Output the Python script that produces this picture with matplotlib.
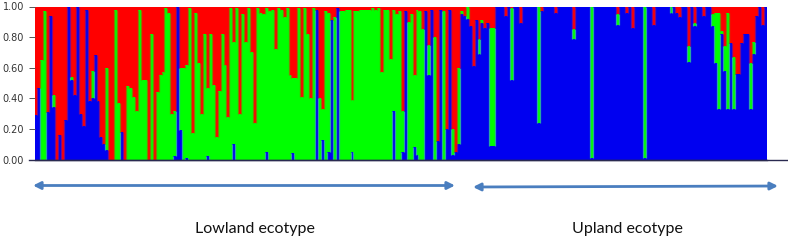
import numpy as np
import matplotlib
matplotlib.use("Agg")
import matplotlib.pyplot as plt
from matplotlib.lines import Line2D

# ---- data: membership fractions per individual (red = 1 - blue - green) ----
lowland_blue = [
    0.29, 0.47, 0, 0, 0.31, 0.94, 0.34, 0, 0.16, 0,
    0.26, 1.0, 0.52, 0.42, 1.0, 0.30, 0.22, 0.98, 0.38, 0.40,
    0.68, 0.38, 0.15, 0.10, 0.06, 0, 0, 0, 0, 0.18,
    0, 0, 0, 0, 0, 0, 0, 0, 0, 0,
    0, 0, 0, 0, 0, 0, 0, 0.02, 1.0, 0.19,
    0, 0.01, 0, 0, 0, 0, 0, 0, 0.02, 0,
    0, 0, 0, 0, 0, 0, 0, 0.10, 0, 0,
    0, 0, 0, 0, 0, 0,
    0, 0, 0.05, 0, 0, 0, 0, 0, 0, 0,
    0, 0.04, 0, 0, 0, 0, 0, 0, 0, 0.98,
    0, 0.13, 0, 0.05, 0.91, 0, 0.99, 0, 0, 0,
    0, 0.05, 0, 0,
    0, 0, 0, 0, 0, 0, 0, 0, 0, 0,
    0, 0.32, 0, 0, 0.05, 0.97, 0, 0, 0.08, 0.03,
    0, 0, 0.97, 0.55, 0.98, 0, 0.12, 0.98, 0, 0.20,
    0.98, 0.03, 0.05,
]
lowland_green = [
    0, 0, 0.65, 0.97, 0, 0, 0.08, 0, 0, 0,
    0, 0, 0.02, 0, 0, 0, 0, 0, 0, 0.18,
    0, 0, 0, 0, 0.54, 0, 0, 0.98, 0.37, 0,
    0, 0.48, 0.47, 0.41, 0.32, 0.98, 0.52, 0.52, 0, 0.82,
    0, 0.44, 0.55, 0.57, 0.99, 0.96, 0.30, 0.30, 0, 0.41,
    0.60, 0.61, 0.99, 0.17, 0.96, 0.63, 0.30, 0.82, 0.45, 0.82,
    0.49, 0.15, 0.45, 0.82, 0.62, 0.28, 0.99, 0.67, 0.99, 0.30,
    0.95, 0.77, 0.99, 0.70, 0.24, 0.99,
    0.96, 0.95, 0.94, 0.97, 0.98, 0.72, 0.99, 0.98, 0.93, 0.99,
    0.55, 0.49, 0.53, 0.99, 0.41, 0.99, 0.82, 0.40, 0.99, 0,
    0.40, 0.20, 0.97, 0.91, 0, 0.93, 0, 0.97, 0.97, 0.98,
    0.98, 0.34, 0.97, 0.97,
    0.98, 0.98, 0.98, 0.98, 0.99, 0.98, 0.99, 0.57, 0.98, 0.98,
    0.66, 0.66, 0.95, 0.97, 0.27, 0, 0.90, 0.95, 0.47, 0.95,
    0.97, 0.85, 0, 0.20, 0, 0.80, 0, 0, 0.97, 0,
    0, 0.17, 0,
]
upland_blue = [
    0.10, 0.95, 0.94, 0.92, 0.87, 0.61, 0.91, 0.69, 0.89, 0.86,
    0.89, 0.09, 0.09, 1.0, 1.0, 1.0, 0.94, 1.0, 0.52, 1.0,
    1.0, 0.89, 1.0, 1.0, 1.0, 1.0, 1.0, 0.24, 0.97, 1.0,
    1.0, 1.0, 1.0, 0.96, 1.0, 1.0, 1.0, 1.0, 1.0, 0.79,
    1.0, 1.0, 1.0, 1.0, 1.0, 0.01, 1.0, 1.0, 1.0, 1.0,
    1.0, 1.0, 1.0, 1.0, 0.88, 1.0, 1.0, 0.96, 1.0, 0.86,
    1.0, 1.0, 1.0, 0.01, 1.0, 1.0, 0.88, 1.0, 1.0, 1.0,
    1.0, 1.0, 0.96, 1.0, 0.96, 0.93, 1.0, 1.0, 0.64, 1.0,
    0.87, 1.0, 1.0, 0.94, 1.0, 1.0, 0.87, 0.63, 0.33, 0.82,
    0.58, 0.33, 0.76, 0.33, 0.56, 0.56, 0.76, 0.82, 0.82, 0.33,
    0.69, 0.94, 1.0, 0.88, 1.0,
]
upland_green = [
    0.50, 0.02, 0, 0.08, 0, 0, 0, 0.10, 0.02, 0,
    0, 0.77, 0.77, 0, 0, 0, 0, 0, 0.47, 0,
    0, 0, 0, 0, 0, 0, 0, 0.76, 0, 0,
    0, 0, 0, 0, 0, 0, 0, 0, 0, 0.06,
    0, 0, 0, 0, 0, 0.99, 0, 0, 0, 0,
    0, 0, 0, 0, 0.07, 0, 0, 0, 0, 0,
    0, 0, 0, 0.99, 0, 0, 0, 0, 0, 0,
    0, 0, 0.04, 0, 0, 0, 0, 0, 0.10, 0,
    0.02, 0, 0, 0, 0, 0, 0.08, 0.33, 0.63, 0.02,
    0.16, 0.63, 0, 0.34, 0, 0, 0, 0, 0, 0.30,
    0.08, 0, 0, 0, 0,
]
y_ticks = [0.0, 0.2, 0.4, 0.6, 0.8, 1.0]
y_tick_labels = ["0.00", "0.20", "0.40", "0.60", "0.80", "1.00"]
group_labels = ["Lowland ecotype", "Upland ecotype"]

# ---- assemble ----
blue = np.array(lowland_blue + upland_blue, dtype=float)
green = np.array(lowland_green + upland_green, dtype=float)
red = np.clip(1.0 - blue - green, 0, 1)
N = len(blue)
x = np.arange(N)

BLUE = "#0000f0"
GREEN = "#00ff00"
RED = "#ff0000"
# colours of the soft seams where two differently coloured segments meet
SEAM = {frozenset("rg"): "#808000", frozenset("gb"): "#28a8a0",
        frozenset("rb"): "#7a0a8a"}

fig = plt.figure(figsize=(7.88, 2.41), dpi=100)
ax = fig.add_axes([34.5 / 788, 1 - 159.5 / 241, (767 - 34.5) / 788, (159.5 - 6.5) / 241])

ax.bar(x, blue, width=1.0, color=BLUE, linewidth=0, align="center")
ax.bar(x, green, bottom=blue, width=1.0, color=GREEN, linewidth=0, align="center")
ax.bar(x, red, bottom=blue + green, width=1.0, color=RED, linewidth=0,
       align="center")

# seams between neighbouring individuals
def segs(i):
    b, g = blue[i], green[i]
    return [("b", 0.0, b), ("g", b, b + g), ("r", b + g, 1.0)]

sx, lo, hi, cols = [], [], [], []
for i in range(N - 1):
    for ca, a0, a1 in segs(i):
        for cb, b0, b1 in segs(i + 1):
            if ca == cb:
                continue
            y0, y1 = max(a0, b0), min(a1, b1)
            if y1 - y0 > 0.004:
                sx.append(i + 0.5)
                lo.append(y0)
                hi.append(y1)
                cols.append(SEAM[frozenset(ca + cb)])
ax.vlines(sx, lo, hi, colors=cols, linewidth=0.9)

ax.set_xlim(-0.5, N - 0.5)
ax.set_ylim(0, 1)
ax.set_xticks([])
ax.set_yticks(y_ticks)
ax.set_yticklabels(y_tick_labels, fontsize=7, color="#333333")
ax.tick_params(axis="y", length=4, width=0.7, color="#555555", pad=3.5)
for s in ["top", "right", "left"]:
    ax.spines[s].set_visible(False)
ax.spines["bottom"].set_color("#2a2a50")
ax.spines["bottom"].set_linewidth(1.0)
fig.add_artist(Line2D([29 / 788, 1.0], [1 - 159.5 / 241, 1 - 159.5 / 241],
                      color="#2a2a50", lw=1.0, transform=fig.transFigure))

# ---- group arrows and labels ----
arrow_col = "#4a7ebf"
arr = dict(arrowstyle="<|-|>", color=arrow_col, lw=2.0, mutation_scale=11,
           shrinkA=0, shrinkB=0)
ax2 = fig.add_axes([0, 0, 1, 1], facecolor="none")
ax2.set_xlim(0, 788)
ax2.set_ylim(241, 0)
ax2.axis("off")
ax2.annotate("", xy=(455, 185.5), xytext=(33, 185.5), arrowprops=arr)
ax2.annotate("", xy=(778, 186), xytext=(473, 187), arrowprops=arr)
ax2.text(255, 229, group_labels[0], ha="center", va="center", fontsize=11.5,
         family="Lato", color="#111111")
ax2.text(627, 229, group_labels[1], ha="center", va="center", fontsize=11.5,
         family="Lato", color="#111111")

fig.savefig("out.png", dpi=100)
